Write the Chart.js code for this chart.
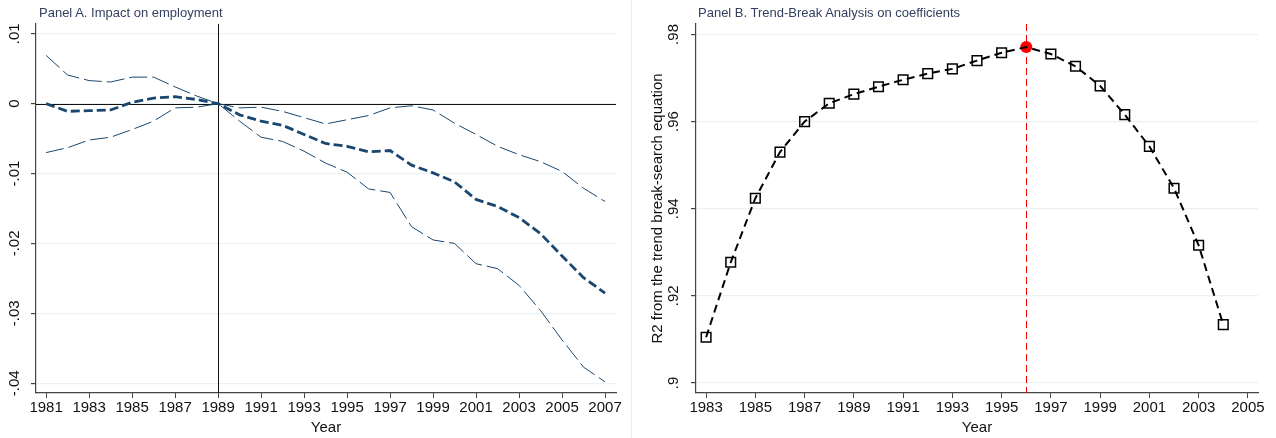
<!DOCTYPE html>
<html>
<head>
<meta charset="utf-8">
<script src="https://cdn.jsdelivr.net/npm/chart.js@4/dist/chart.umd.min.js"></script>
<style>
  body { margin: 0; background: #fff; }
  #wrap { position: relative; width: 1276px; height: 438px; overflow: hidden; font-family: Arial, "Liberation Sans", sans-serif; }
  .panel { position: absolute; top: 0; height: 438px; }
  #boxA { left: 0; width: 630px; }
  #boxB { left: 630px; width: 646px; }
  .ttl { position: absolute; top: 5px; font-size: 13px; color: #33415f; white-space: nowrap; }
  #sep { position: absolute; left: 631px; top: 0; width: 1px; height: 438px; background: #eaf0f0; }
</style>
</head>
<body>
<div id="wrap">
  <div class="panel" id="boxA"><canvas id="chartA"></canvas></div>
  <div class="panel" id="boxB"><canvas id="chartB"></canvas></div>
  <div id="sep"></div>
  <div class="ttl" style="left:39px">Panel A. Impact on employment</div>
  <div class="ttl" style="left:698px">Panel B. Trend-Break Analysis on coefficients</div>
</div>
<script>
// Panel A: event-study coefficients with confidence bands
const yearsA = [1981, 1982, 1983, 1984, 1985, 1986, 1987, 1988, 1989, 1990, 1991, 1992, 1993, 1994,
  1995, 1996, 1997, 1998, 1999, 2000, 2001, 2002, 2003, 2004, 2005, 2006, 2007];
const coefA = [0, -0.0011, -0.001, -0.0009, 0.0002, 0.0008, 0.001, 0.0006, 0, -0.0016, -0.0025, -0.0031,
  -0.0044, -0.0057, -0.0061, -0.0069, -0.0067, -0.0088, -0.0099, -0.0112, -0.0137, -0.0147, -0.0163,
  -0.0186, -0.0218, -0.0249, -0.0271];
const upperA = [0.0069, 0.0041, 0.0033, 0.0031, 0.0038, 0.0038, 0.0024, 0.0011, 0, -0.0006, -0.0005, -0.0011,
  -0.002, -0.0029, -0.0023, -0.0017, -0.0006, -0.0003, -0.0009, -0.0028, -0.0044, -0.0061, -0.0073,
  -0.0083, -0.0097, -0.0121, -0.014];
const lowerA = [-0.007, -0.0063, -0.0052, -0.0048, -0.0037, -0.0025, -0.0006, -0.0005, 0, -0.0025, -0.0048, -0.0054,
  -0.0068, -0.0085, -0.0098, -0.0122, -0.0127, -0.0176, -0.0195, -0.02, -0.0229, -0.0236, -0.026,
  -0.0296, -0.0338, -0.0377, -0.0398];
const xTicksA = [1981, 1983, 1985, 1987, 1989, 1991, 1993, 1995, 1997, 1999, 2001, 2003, 2005, 2007];
const yTicksA = [0.01, 0, -0.01, -0.02, -0.03, -0.04];
const yTickLabelsA = ['.01', '0', '-.01', '-.02', '-.03', '-.04'];
const eventYearA = 1989;

// Panel B: R2 of trend-break search by break year
const yearsB = [1983, 1984, 1985, 1986, 1987, 1988, 1989, 1990, 1991, 1992, 1993, 1994, 1995, 1996,
  1997, 1998, 1999, 2000, 2001, 2002, 2003, 2004];
const r2B = [0.9105, 0.9277, 0.9424, 0.953, 0.96, 0.9642, 0.9663, 0.968, 0.9696, 0.971, 0.9721, 0.974,
  0.9758, 0.9771, 0.9755, 0.9727, 0.9682, 0.9616, 0.9543, 0.9447, 0.9316, 0.9134];
const xTicksB = [1983, 1985, 1987, 1989, 1991, 1993, 1995, 1997, 1999, 2001, 2003, 2005];
const yTicksB = [0.98, 0.96, 0.94, 0.92, 0.9];
const yTickLabelsB = ['.98', '.96', '.94', '.92', '.9'];

const FONT = 'Arial, "Liberation Sans", sans-serif';
const NAVY = '#1a476f';
const AXIS = '#444';
const GRID = '#eaf2f3';

function pts(xs, ys) {
  return xs.map((x, i) => ({ x: x, y: ys[i] }));
}

// y tick labels in Stata are rotated, Chart.js can't rotate y ticks so draw them here
function rotatedYLabels(values, labels, xPos, yTitle) {
  return {
    id: 'rotY',
    afterDraw(chart) {
      const ctx = chart.ctx;
      const y = chart.scales.y;
      ctx.save();
      ctx.fillStyle = '#111';
      ctx.font = '15px ' + FONT;
      ctx.textAlign = 'center';
      ctx.textBaseline = 'middle';
      values.forEach((v, i) => {
        ctx.save();
        ctx.translate(xPos, y.getPixelForValue(v));
        ctx.rotate(-Math.PI / 2);
        ctx.fillText(labels[i], 0, 0);
        ctx.restore();
      });
      if (yTitle) {
        ctx.translate(yTitle.x, (chart.chartArea.top + chart.chartArea.bottom) / 2);
        ctx.rotate(-Math.PI / 2);
        ctx.fillText(yTitle.text, 0, 0);
      }
      ctx.restore();
    }
  };
}

function refLines(opts) {
  return {
    id: 'refLines',
    beforeDatasetsDraw(chart) {
      const ctx = chart.ctx;
      const a = chart.chartArea;
      const xs = chart.scales.x, ys = chart.scales.y;
      ctx.save();
      if (opts.hZero) {
        const py = Math.round(ys.getPixelForValue(0)) + 0.5;
        ctx.strokeStyle = '#111';
        ctx.lineWidth = 1.2;
        ctx.beginPath(); ctx.moveTo(a.left, py); ctx.lineTo(a.right, py); ctx.stroke();
      }
      if (opts.vx != null) {
        const px = Math.round(xs.getPixelForValue(opts.vx)) + 0.5;
        ctx.strokeStyle = opts.vColor;
        ctx.lineWidth = 1;
        ctx.setLineDash(opts.vDash || []);
        ctx.beginPath(); ctx.moveTo(px, a.top); ctx.lineTo(px, a.bottom); ctx.stroke();
      }
      ctx.restore();
    }
  };
}

function xScale(min, max, ticks) {
  return {
    type: 'linear', min: min, max: max,
    afterBuildTicks: s => { s.ticks = ticks.map(v => ({ value: v })); },
    ticks: { color: '#111', font: { size: 15, family: FONT }, padding: 1, maxRotation: 0, autoSkip: false,
      callback: v => String(v) },
    grid: { drawOnChartArea: false, drawTicks: true, tickLength: 5, color: AXIS },
    border: { display: true, color: AXIS, width: 1.2 },
    title: { display: true, text: 'Year', color: '#111', font: { size: 15, family: FONT }, padding: { top: 0, bottom: 1 } },
    afterFit: s => { s.height = 45; }
  };
}

function yScale(min, max, ticks, width) {
  return {
    type: 'linear', min: min, max: max,
    afterBuildTicks: s => { s.ticks = ticks.map(v => ({ value: v })); },
    ticks: { display: false },
    grid: { color: GRID, lineWidth: 1.2, drawTicks: true, tickLength: 5, tickColor: AXIS },
    border: { display: true, color: AXIS, width: 1.2 },
    afterFit: s => { s.width = width; }
  };
}

const common = {
  responsive: false,
  animation: false,
  plugins: { legend: { display: false }, tooltip: { enabled: false } },
  elements: { line: { tension: 0 } }
};

const canvasA = document.getElementById('chartA');
canvasA.width = 630; canvasA.height = 438;
new Chart(canvasA, {
  type: 'line',
  data: {
    datasets: [
      { data: pts(yearsA, upperA), borderColor: NAVY, borderWidth: 1, borderDash: [18, 5], pointRadius: 0 },
      { data: pts(yearsA, lowerA), borderColor: NAVY, borderWidth: 1, borderDash: [18, 5], pointRadius: 0 },
      { data: pts(yearsA, coefA), borderColor: NAVY, borderWidth: 2.8, borderDash: [9, 4], pointRadius: 0 }
    ]
  },
  options: Object.assign({}, common, {
    layout: { padding: { left: 0, right: 14, top: 24, bottom: 0 } },
    scales: {
      x: xScale(1980.53, 2007.51, xTicksA),
      y: yScale(-0.0414, 0.0114, yTicksA, 36)
    }
  }),
  plugins: [refLines({ hZero: true, vx: eventYearA, vColor: '#111' }), rotatedYLabels(yTicksA, yTickLabelsA, 15)]
});

// peak of the R2 curve gets the red marker
const peakIdx = r2B.indexOf(Math.max(...r2B));
const peakYear = yearsB[peakIdx];

const canvasB = document.getElementById('chartB');
canvasB.width = 646; canvasB.height = 438;
new Chart(canvasB, {
  type: 'line',
  data: {
    datasets: [
      {
        data: pts(yearsB, r2B), borderColor: '#000', borderWidth: 2, borderDash: [8, 5],
        pointStyle: 'rect', pointRadius: ctx => ctx.dataIndex === peakIdx ? 0 : 6.8,
        pointBorderColor: '#000', pointBorderWidth: 1.5, pointBackgroundColor: 'rgba(0,0,0,0)'
      },
      {
        data: [{ x: peakYear, y: r2B[peakIdx] }], showLine: false,
        pointStyle: 'circle', pointRadius: 6, pointBackgroundColor: '#ff0000', pointBorderColor: '#ff0000', pointBorderWidth: 0
      }
    ]
  },
  options: Object.assign({}, common, {
    layout: { padding: { left: 0, right: 18, top: 24, bottom: 0 } },
    scales: {
      x: xScale(1982.59, 2005.41, xTicksB),
      y: yScale(0.8977, 0.9824, yTicksB, 66)
    }
  }),
  plugins: [refLines({ vx: peakYear, vColor: '#ff0000', vDash: [7, 4] }),
    rotatedYLabels(yTicksB, yTickLabelsB, 44, { x: 28, text: 'R2 from the trend break-search equation' })]
});
</script>
</body>
</html>
